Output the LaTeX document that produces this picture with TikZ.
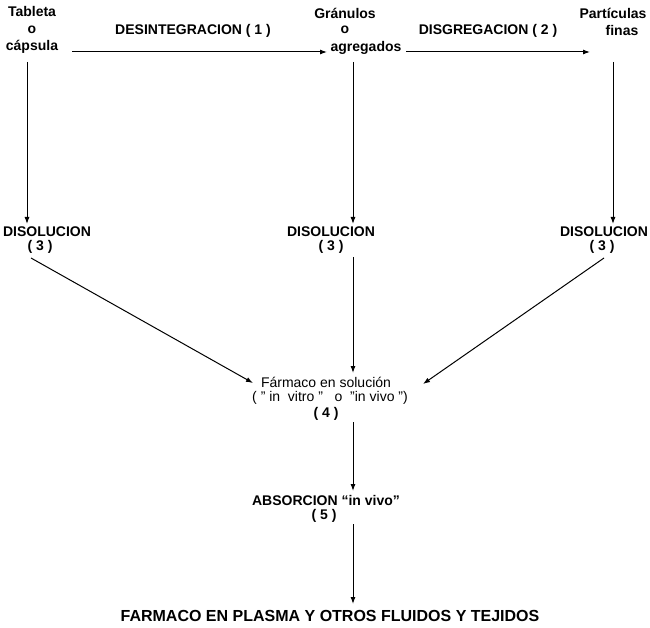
\documentclass[tikz,border=0pt]{standalone}
\usepackage{fontspec}
\setmainfont{Liberation Sans}
\usetikzlibrary{arrows.meta}
\begin{document}
\begin{tikzpicture}[x=1pt,y=-1pt,
  lbl/.style={font=\fontsize{14}{17}\selectfont\bfseries, inner sep=0pt, align=center},
  reg/.style={font=\fontsize{14}{17}\selectfont, inner sep=0pt, align=center},
  big/.style={font=\fontsize{16}{19}\selectfont\bfseries, inner sep=0pt},
  flow/.style={line width=1pt, -{Latex[length=7pt,width=5pt]}},
]
\useasboundingbox[fill=white] (0,0) rectangle (650,628);

% top row
\node[lbl] (tab) at (32,30) {Tableta\\o\\cápsula};
\node[lbl] (gr1) at (345,13) {Gránulos};
\node[lbl] (gr2) at (345,30) {o};
\node[lbl] (gr3) at (366,48) {agregados};
\node[lbl] (pa1) at (613,13) {Partículas};
\node[lbl] (pa2) at (622,30) {finas};
\node[lbl] (des) at (193,31) {DESINTEGRACION ( 1 )};
\node[lbl] (dis) at (488,31) {DISGREGACION ( 2 )};

\coordinate (a1s) at (72,52);
\coordinate (a1e) at (327,52);
\coordinate (a2s) at (406,52);
\coordinate (a2e) at (590,52);
\draw[flow] (a1s) -- (a1e);
\draw[flow] (a2s) -- (a2e);

% dissolution row
\node[lbl] (dl) at (47,232) {DISOLUCION};
\node[lbl] (dl3) at (40,247) {( 3 )};
\node[lbl] (dm) at (331,232) {DISOLUCION};
\node[lbl] (dm3) at (331,247) {( 3 )};
\node[lbl] (dr) at (604,232) {DISOLUCION};
\node[lbl] (dr3) at (602,247) {( 3 )};

\coordinate (v1s) at (27,62);
\coordinate (v1e) at (27,224);
\coordinate (v2s) at (353,62);
\coordinate (v2e) at (353,224);
\coordinate (v3s) at (613,62);
\coordinate (v3e) at (613,224);
\draw[flow] (v1s) -- (v1e);
\draw[flow] (v2s) -- (v2e);
\draw[flow] (v3s) -- (v3e);

% drug in solution
\node[reg] (fa1) at (326,382) {Fármaco en solución};
\node[reg] (fa2) at (330,398) {( ” in~~vitro ”~~~o~~”in vivo ”)};
\node[lbl] (fa3) at (326,414) {( 4 )};

\coordinate (d1s) at (31,258);
\coordinate (d1e) at (253,383);
\coordinate (d2s) at (353,257);
\coordinate (d2e) at (353,373);
\coordinate (d3s) at (604,258);
\coordinate (d3e) at (423,384);
\draw[flow] (d1s) -- (d1e);
\draw[flow] (d2s) -- (d2e);
\draw[flow] (d3s) -- (d3e);

% absorption
\node[lbl] (ab) at (326,500) {ABSORCION “in vivo”};
\node[lbl] (ab5) at (324,516) {( 5 )};
\coordinate (e1s) at (353,422);
\coordinate (e1e) at (353,491);
\draw[flow] (e1s) -- (e1e);

% final
\node[big] (fin) at (330,616) {FARMACO EN PLASMA Y OTROS FLUIDOS Y TEJIDOS};
\coordinate (f1s) at (353,524);
\coordinate (f1e) at (353,604);
\draw[flow] (f1s) -- (f1e);
\end{tikzpicture}
\end{document}
